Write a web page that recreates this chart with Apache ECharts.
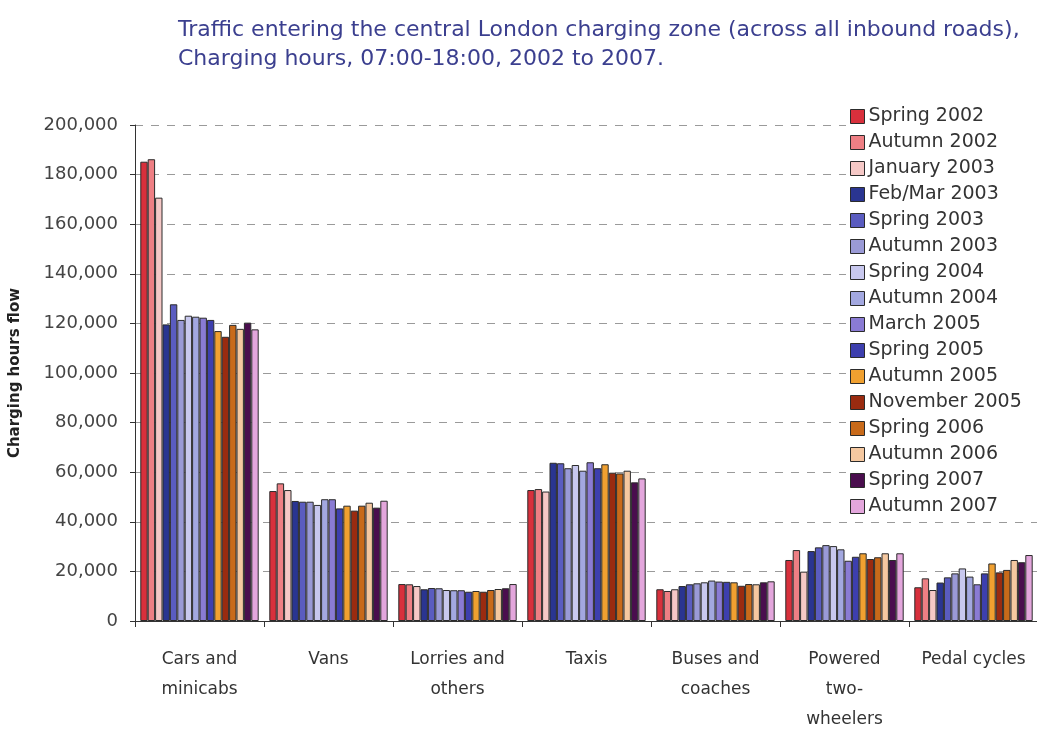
<!DOCTYPE html>
<html>
<head>
<meta charset="utf-8">
<script src="https://cdn.jsdelivr.net/npm/echarts@6/dist/echarts.min.js"></script>
<style>
  html, body { margin: 0; padding: 0; background: #fff; }
  #chart { width: 1037px; height: 729px; }
</style>
</head>
<body>
<div id="chart"></div>
<script>
// Vehicle categories along the x axis
const categories = [
  'Cars and\nminicabs', 'Vans', 'Lorries and\nothers', 'Taxis',
  'Buses and\ncoaches', 'Powered\ntwo-\nwheelers', 'Pedal cycles'
];

// Survey periods (one bar series each)
const periods = [
  'Spring 2002', 'Autumn 2002', 'January 2003', 'Feb/Mar 2003',
  'Spring 2003', 'Autumn 2003', 'Spring 2004', 'Autumn 2004',
  'March 2005', 'Spring 2005', 'Autumn 2005', 'November 2005',
  'Spring 2006', 'Autumn 2006', 'Spring 2007', 'Autumn 2007'
];

const periodColors = [
  '#d8303c', '#ee7f84', '#f5c8c6', '#2a3591',
  '#5a5cc0', '#9a9ad6', '#c8c8ee', '#a3a8e0',
  '#8a7bd4', '#3d3fae', '#f0a030', '#9a2b10',
  '#c86a1a', '#f5c8a0', '#4a0e4e', '#e3a6dc'
];

// Flow per category, one array per survey period
const spring2002   = [185200, 52400, 14900, 52800, 12800, 24600, 13600];
const autumn2002   = [186200, 55500, 14800, 53200, 12100, 28600, 17200];
const january2003  = [170700, 52800, 14100, 52200, 12800, 19900, 12500];
const febMar2003   = [119600, 48400, 12800, 63800, 14100, 28200, 15500];
const spring2003   = [127700, 48100, 13300, 63600, 14800, 29700, 17600];
const autumn2003   = [121400, 48100, 13200, 61600, 15200, 30600, 19200];
const spring2004   = [123100, 46800, 12500, 62900, 15600, 30200, 21200];
const autumn2004   = [122700, 49100, 12400, 60600, 16300, 28900, 17900];
const march2005    = [122300, 49100, 12400, 64000, 15900, 24300, 14800];
const spring2005   = [121400, 45400, 11800, 61600, 15800, 25900, 19200];
const autumn2005   = [116900, 46500, 12100, 63200, 15600, 27300, 23200];
const november2005 = [114600, 44500, 11800, 59800, 14200, 25000, 19600];
const spring2006   = [119400, 46500, 12500, 59500, 14900, 25700, 20600];
const autumn2006   = [117800, 47700, 12900, 60600, 14800, 27300, 24600];
const spring2007   = [120300, 45700, 13200, 55900, 15600, 24600, 23700];
const autumn2007   = [117600, 48500, 14900, 57500, 16000, 27300, 26600];

const seriesValues = [
  spring2002, autumn2002, january2003, febMar2003,
  spring2003, autumn2003, spring2004, autumn2004,
  march2005, spring2005, autumn2005, november2005,
  spring2006, autumn2006, spring2007, autumn2007
];

// Y axis ticks
const yMin = 0, yMax = 200000, yStep = 20000;

const FONT = '"DejaVu Sans", sans-serif';

const chart = echarts.init(document.getElementById('chart'), null, { renderer: 'canvas' });

// Bars sit edge to edge inside each category band
const series = periods.map((name, i) => ({
  name: name,
  type: 'bar',
  data: seriesValues[i],
  barWidth: 7.4,
  barGap: '0%',
  itemStyle: { color: periodColors[i], borderColor: '#2b2b2b', borderWidth: 1 },
  emphasis: { disabled: true }
}));

chart.setOption({
  animation: false,
  backgroundColor: '#ffffff',
  title: {
    text: 'Traffic entering the central London charging zone (across all inbound roads),\nCharging hours, 07:00-18:00, 2002 to 2007.',
    left: 173,
    top: 11,
    textStyle: {
      fontFamily: FONT,
      fontSize: 22,
      fontWeight: 'normal',
      color: '#3b3f8f',
      lineHeight: 29
    }
  },
  legend: {
    orient: 'vertical',
    left: 846,
    top: 101,
    data: periods,
    itemWidth: 14,
    itemHeight: 14,
    itemGap: 3,
    padding: [4, 30, 4, 4],
    backgroundColor: '#ffffff',
    icon: 'rect',
    itemStyle: { borderColor: '#2b2b2b', borderWidth: 1 },
    textStyle: { fontFamily: FONT, fontSize: 19, lineHeight: 23, color: '#333333', padding: [0, 0, 0, -1] },
    selectedMode: false
  },
  grid: {
    left: 135,
    top: 125,
    width: 903,
    height: 496,
    containLabel: false,
    outerBoundsMode: 'none'
  },
  xAxis: {
    type: 'category',
    data: categories,
    axisLine: { show: true, lineStyle: { color: '#333333', width: 1 } },
    axisTick: { show: true, length: 6, lineStyle: { color: '#333333' } },
    axisLabel: {
      interval: 0,
      fontFamily: FONT,
      fontSize: 17,
      color: '#333333',
      lineHeight: 30,
      margin: 24
    },
    splitLine: { show: false }
  },
  yAxis: {
    type: 'value',
    min: yMin,
    max: yMax,
    interval: yStep,
    name: 'Charging hours flow',
    nameLocation: 'middle',
    nameGap: 112,
    nameTextStyle: { fontFamily: FONT, fontSize: 15, fontWeight: 'bold', color: '#222222' },
    axisLine: { show: true, lineStyle: { color: '#333333', width: 1 } },
    axisTick: { show: true, inside: false, length: 5, lineStyle: { color: '#333333' } },
    axisLabel: {
      fontFamily: FONT,
      fontSize: 18,
      color: '#444444',
      margin: 17,
      formatter: v => v.toLocaleString('en-US')
    },
    splitLine: { show: true, lineStyle: { color: '#9a9a9a', type: [8, 8], width: 1 } }
  },
  series: series
});
</script>
</body>
</html>
